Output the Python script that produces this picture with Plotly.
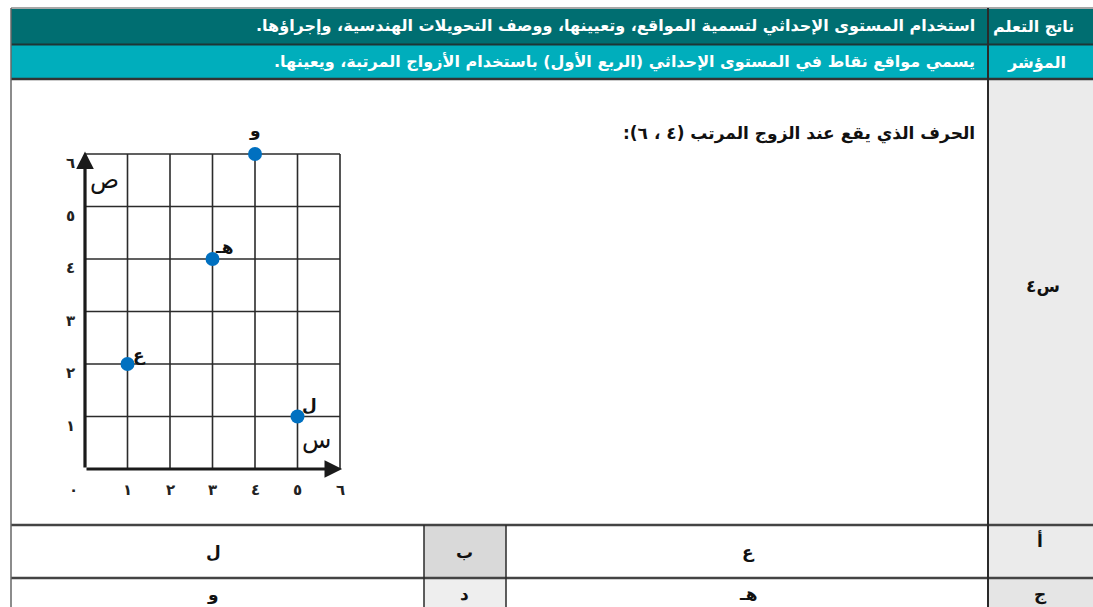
import plotly.graph_objects as go

W, H = 1093, 607

# ---- data ----
point_labels = ["ع", "هـ", "و", "ل"]
point_x = [1, 3, 4, 5]
point_y = [2, 4, 6, 1]
tick_vals = [0, 1, 2, 3, 4, 5, 6]
tick_text = ["٠", "١", "٢", "٣", "٤", "٥", "٦"]

header_label_1 = "ناتج التعلم"
header_text_1 = "استخدام المستوى الإحداثي لتسمية المواقع، وتعيينها، ووصف التحويلات الهندسية، وإجراؤها."
header_label_2 = "المؤشر"
header_text_2 = "يسمي مواقع نقاط في المستوى الإحداثي (الربع الأول) باستخدام الأزواج المرتبة، ويعينها."
question = "الحرف الذي يقع عند الزوج المرتب (٤ ، ٦):"
q_id = "س٤"
choice_keys = ["أ", "ب", "ج", "د"]
choice_vals = ["ع", "ل", "هـ", "و"]

FONT = "DejaVu Sans"


def rtl(s):
    return "\u202b" + s + "\u202c"


def px(x):
    return x / W


def py(y):
    return 1 - y / H


fig = go.Figure()

# ---- chart geometry (pixels) ----
ux, uy = 42.5, 52.5
x0p, y0p = 85, 469
xr = [-0.5, 6.6]
yr = [-0.8, 6.9]
dom_x = [px(x0p + xr[0] * ux), px(x0p + xr[1] * ux)]
dom_y = [py(y0p - yr[0] * uy), py(y0p - yr[1] * uy)]

# grid lines
for v in tick_vals[1:]:
    fig.add_trace(go.Scatter(x=[v, v], y=[0, 6], mode="lines",
                             line=dict(color="#2b2b2b", width=1.6),
                             hoverinfo="skip", showlegend=False))
    fig.add_trace(go.Scatter(x=[0, 6], y=[v, v], mode="lines",
                             line=dict(color="#2b2b2b", width=1.6),
                             hoverinfo="skip", showlegend=False))

# points
fig.add_trace(go.Scatter(x=point_x, y=point_y, mode="markers",
                         marker=dict(size=14, color="#0070C0"),
                         showlegend=False))

annotations = []
# axes arrows
annotations.append(dict(x=6.05, y=0, ax=0, ay=0, xref="x", yref="y", axref="x", ayref="y",
                        showarrow=True, arrowhead=2, arrowsize=1.1, arrowwidth=3.2,
                        arrowcolor="#1a1a1a", text=""))
annotations.append(dict(x=0, y=6.05, ax=0, ay=0, xref="x", yref="y", axref="x", ayref="y",
                        showarrow=True, arrowhead=2, arrowsize=1.1, arrowwidth=3.2,
                        arrowcolor="#1a1a1a", text=""))

# tick labels
for v, t in zip(tick_vals, tick_text):
    xv = v if v > 0 else -0.28
    annotations.append(dict(x=xv, y=-0.4, xref="x", yref="y", text="<b>" + t + "</b>", showarrow=False,
                            font=dict(family=FONT, size=15, color="#222")))
for v, t in zip(tick_vals[1:], tick_text[1:]):
    annotations.append(dict(x=-0.33, y=v - 0.18, xref="x", yref="y", text="<b>" + t + "</b>", showarrow=False,
                            font=dict(family=FONT, size=15, color="#222")))

# axis letters
annotations.append(dict(x=0.45, y=5.5, xref="x", yref="y", text="ص", showarrow=False,
                        font=dict(family=FONT, size=24, color="#111")))
annotations.append(dict(x=5.45, y=0.55, xref="x", yref="y", text="س", showarrow=False,
                        font=dict(family=FONT, size=24, color="#111")))

# point labels
offsets = {"و": (0, 0.45), "هـ": (0.28, 0.22), "ع": (0.28, 0.18), "ل": (0.28, 0.22)}
for lab, xv, yv in zip(point_labels, point_x, point_y):
    dx, dy = offsets[lab]
    annotations.append(dict(x=xv + dx, y=yv + dy, xref="x", yref="y", text="<b>" + lab + "</b>",
                            showarrow=False, font=dict(family=FONT, size=17, color="#111")))

# ---- table shapes ----
shapes = []
LINE = "#2a2a2a"


def rect(x1, y1, x2, y2, fill):
    shapes.append(dict(type="rect", xref="paper", yref="paper", x0=px(x1), x1=px(x2),
                       y0=py(y2), y1=py(y1), fillcolor=fill, line=dict(width=0), layer="below"))


def hline(y, x1, x2, w=2, c=LINE):
    shapes.append(dict(type="line", xref="paper", yref="paper", x0=px(x1), x1=px(x2),
                       y0=py(y), y1=py(y), line=dict(color=c, width=w)))


def vline(x, y1, y2, w=2, c=LINE):
    shapes.append(dict(type="line", xref="paper", yref="paper", x0=px(x), x1=px(x),
                       y0=py(y1), y1=py(y2), line=dict(color=c, width=w)))


rect(11, 9, W, 44, "#006E71")
rect(11, 45, W, 78, "#00AEBC")
rect(988, 80, W, 525, "#EBEBEB")
rect(988, 525, W, 578, "#EBEBEB")
rect(424, 525, 506, 578, "#D9D9D9")
rect(424, 578, 506, H, "#EEEEEE")
rect(988, 578, W, H, "#E5E5E5")

hline(8, 11, W, 1.5, "#8a8a8a")
hline(44.5, 11, W, 2, "#1e3535")
hline(79, 11, W, 2.5, "#333333")
hline(525, 11, W, 2.5, "#444444")
hline(578, 11, W, 2.5, "#444444")
vline(11, 8, H, 1.5, "#666666")
vline(988, 8, H, 2, "#2a2a2a")
vline(424, 525, H, 1.5)
vline(506, 525, H, 1.5)

# ---- table texts ----
def ptext(x, y, s, size, color="#111", anchor="center", bold=True):
    annotations.append(dict(x=px(x), y=py(y), xref="paper", yref="paper",
                            text=("<b>" + rtl(s) + "</b>") if bold else rtl(s),
                            showarrow=False, xanchor=anchor, yanchor="middle",
                            font=dict(family=FONT, size=size, color=color)))


ptext(1033, 26, header_label_1, 16, "white")
ptext(977, 26, header_text_1, 16, "white", "right")
ptext(1036, 62, header_label_2, 16, "white")
ptext(977, 62, header_text_2, 16, "white", "right")
ptext(977, 133, question, 17, "#111", "right")
ptext(1043, 286, q_id, 17)

cell_x = {"أ": 1040, "ب": 464, "ج": 1040, "د": 464}
val_x = [748, 213, 748, 213]
row_y = [552, 594]
for i, (k, v) in enumerate(zip(choice_keys, choice_vals)):
    r = i // 2
    ky = 540 if k == "أ" else row_y[r]
    ptext(cell_x[k], ky, k, 17)
    ptext(val_x[i], row_y[r], v, 17)

fig.update_layout(
    width=W, height=H, margin=dict(l=0, r=0, t=0, b=0),
    paper_bgcolor="white", plot_bgcolor="rgba(0,0,0,0)",
    xaxis=dict(domain=dom_x, range=xr, visible=False, fixedrange=True),
    yaxis=dict(domain=dom_y, range=yr, visible=False, fixedrange=True),
    shapes=shapes, annotations=annotations, showlegend=False,
)

fig.write_html("out.html", config={"displayModeBar": False},
               post_script="document.body.style.margin='0';document.body.style.overflow='hidden';")
